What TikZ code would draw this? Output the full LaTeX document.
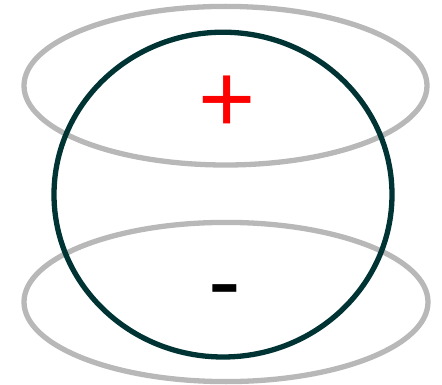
\documentclass[tikz,border=0pt]{standalone}
\usepackage{fontspec}
\setmainfont{Liberation Sans}
\definecolor{ringgray}{HTML}{B8B8B8}
\definecolor{sphere}{HTML}{003333}
\begin{document}
\begin{tikzpicture}[x=1pt,y=-1pt,
  ring/.style={draw=ringgray,line width=5.3pt},
  ball/.style={draw=sphere,line width=5.3pt},
  sign/.style={inner sep=0pt,anchor=base,font=\fontsize{98}{98}\selectfont}]
\useasboundingbox (0,0) rectangle (442,385);
\draw[ring] (225.5,85.7) ellipse [x radius=201.5, y radius=79.3];
\draw[ring] (226,302) ellipse [x radius=202, y radius=79.6];
\draw[ball] (223,194.6) ellipse [x radius=169, y radius=162.4];
\node[sign,text=red] (plus) at (226.7,132.7) {+};
\node[sign,text=black] (minus) at (225,314.7) {-};
\end{tikzpicture}
\end{document}
